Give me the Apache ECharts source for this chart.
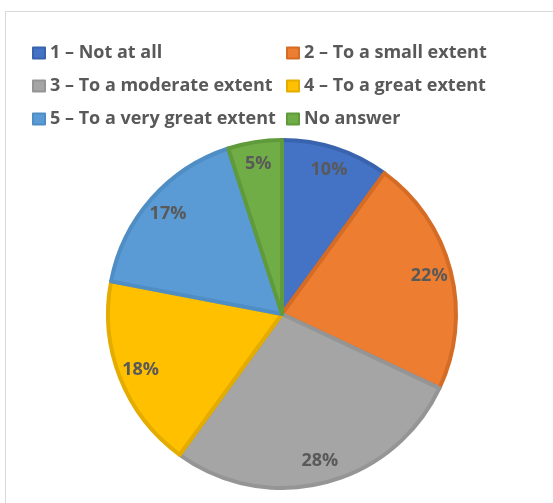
<!DOCTYPE html>
<html><head><meta charset="utf-8">
<script src="https://cdn.jsdelivr.net/npm/echarts@6/dist/echarts.min.js"></script>
<style>
html,body{margin:0;padding:0;background:#fff;}
#frame{position:absolute;left:5px;top:11px;width:600px;height:600px;border:1px solid #D9D9D9;box-sizing:border-box;}
#chart{position:absolute;left:0;top:0;width:553px;height:503px;}
</style></head>
<body>
<div id="frame"></div>
<div id="chart"></div>
<script>
const categories = ['1 – Not at all','2 – To a small extent','3 – To a moderate extent','4 – To a great extent','5 – To a very great extent','No answer'];
const values = [10, 22, 28, 18, 17, 5];
const colors = ['#4472C4','#ED7D31','#A5A5A5','#FFC000','#5B9BD5','#70AD47'];
const borderColors = ['#3A63AE','#D56C26','#959595','#E5AC00','#4F8DC5','#5F9B3A'];

const chart = echarts.init(document.getElementById('chart'));
const pieData = categories.map((c,i)=>({name:c,value:values[i],itemStyle:{color:colors[i],borderColor:borderColors[i]}}));
const labelData = categories.map((c,i)=>({name:c,value:values[i]}));
const legendText = {color:'#595959',fontFamily:'Open Sans',fontWeight:'bold',fontSize:18,lineHeight:22};
chart.setOption({
  animation:false,
  legend:[
    {orient:'vertical',left:32,top:42,padding:0,itemWidth:12,itemHeight:11,itemGap:11,icon:'rect',
     data:[categories[0],categories[2],categories[4]],textStyle:legendText,selectedMode:false},
    {orient:'vertical',left:286,top:42,padding:0,itemWidth:12,itemHeight:11,itemGap:11,icon:'rect',
     data:[categories[1],categories[3],categories[5]],textStyle:legendText,selectedMode:false}
  ],
  series:[
    {type:'pie',center:[282,314],radius:[0,174],startAngle:90,clockwise:true,
     itemStyle:{borderWidth:4},label:{show:false},labelLine:{show:false},data:pieData,silent:true},
    {type:'pie',center:[282,314],radius:[120,178],startAngle:90,clockwise:true,silent:true,
     itemStyle:{color:'rgba(0,0,0,0)'},
     label:{show:true,position:'inside',formatter:p=>p.value+'%',color:'#595959',fontFamily:'Open Sans',fontWeight:'bold',fontSize:18},
     labelLine:{show:false},data:labelData}
  ]
});
</script>
</body></html>
